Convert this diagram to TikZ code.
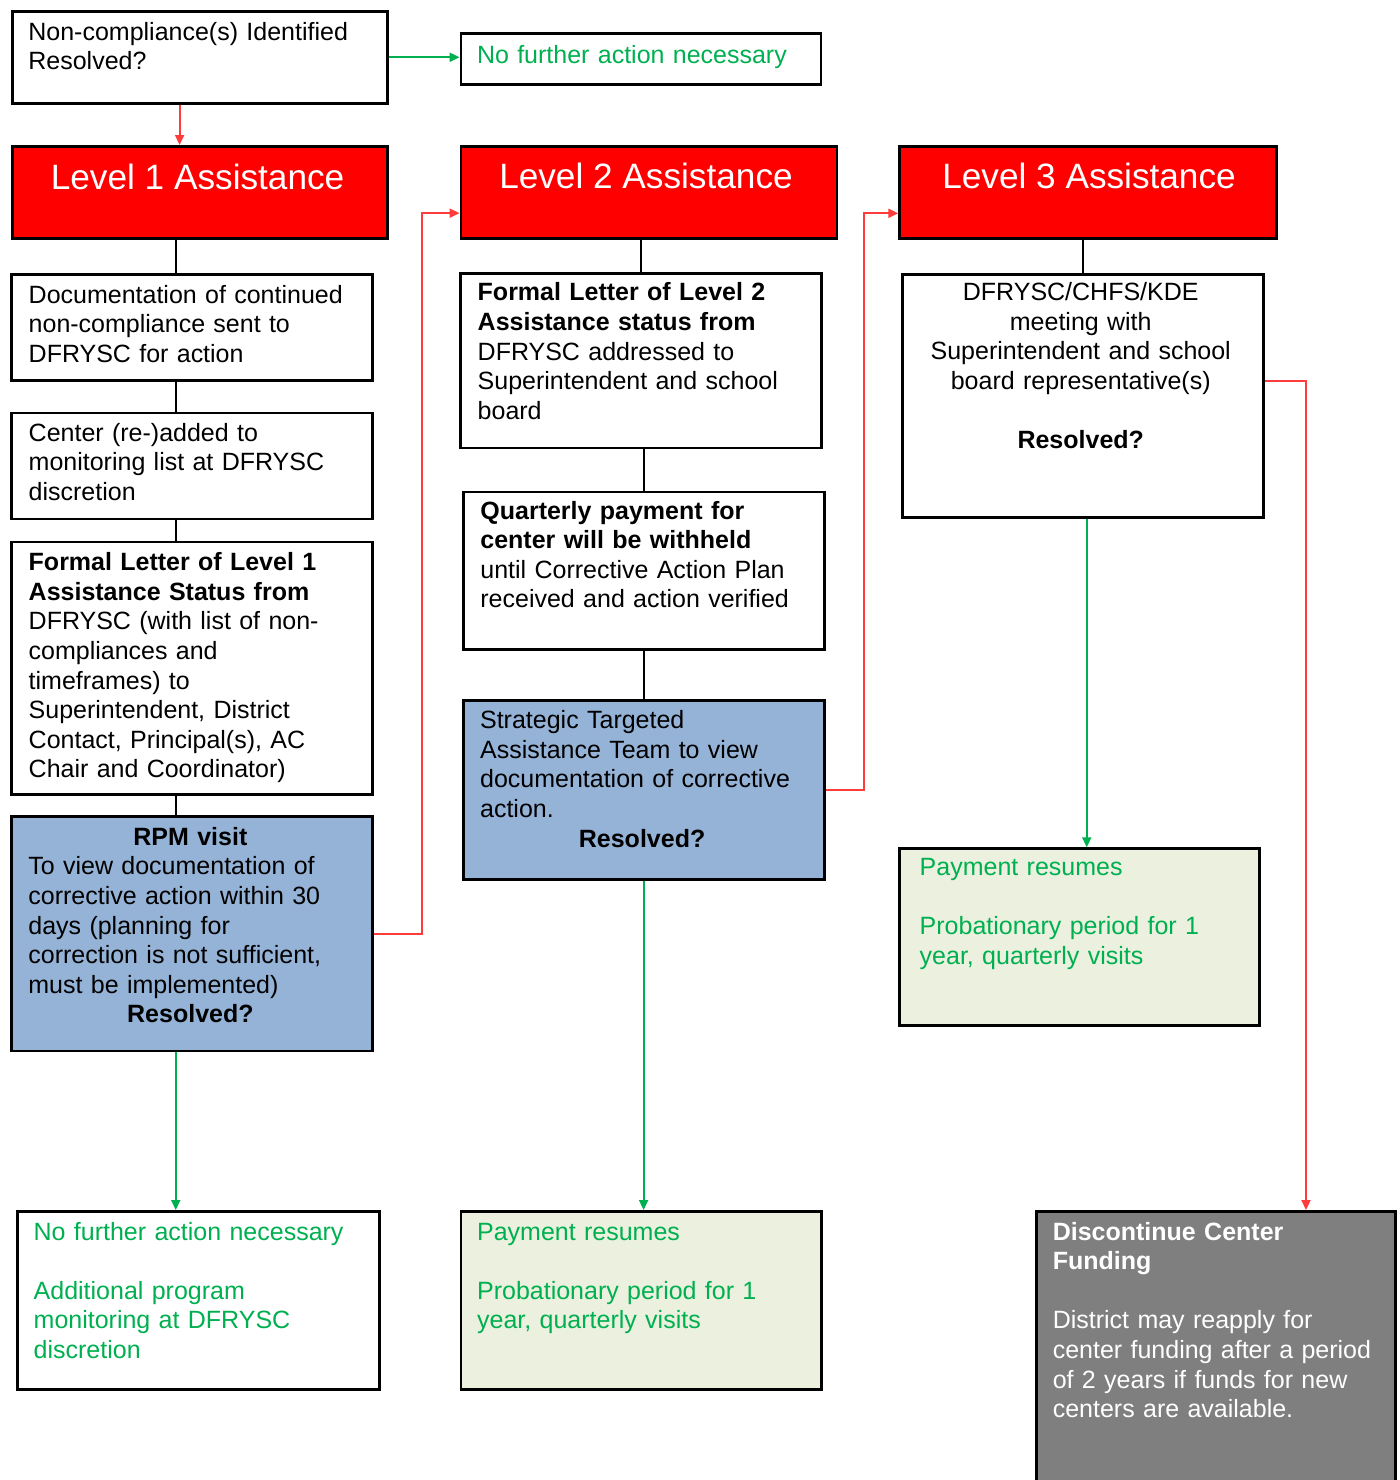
\documentclass[tikz,border=0pt]{standalone}
\usepackage{fontspec}
\setmainfont{Liberation Sans}
\usetikzlibrary{arrows.meta}
\definecolor{lvlred}{RGB}{255,0,0}
\definecolor{stepblue}{RGB}{149,179,215}
\definecolor{okgreen}{RGB}{0,176,80}
\definecolor{paleok}{RGB}{235,241,222}
\definecolor{stopgrey}{RGB}{127,127,127}
\definecolor{linkred}{RGB}{255,60,60}

\begin{document}
\begin{tikzpicture}[x=0.5pt,y=-0.5pt,
        box/.style={draw,line width=1.4pt,inner sep=0pt,anchor=north west},
        boxsize/.style 2 args={minimum width=#1*0.5pt,minimum height=#2*0.5pt},
        head/.style={box,fill=lvlred},
        txt/.style={anchor=base west,inner sep=0pt,text width=162pt,align=left,font=\fontsize{12.5}{14.8}\selectfont},
        htxt/.style={anchor=base,inner sep=0pt,text=white,font=\fontsize{17.6}{20}\selectfont},
        link/.style={line width=1pt},
        yes/.style={link,okgreen,-{Triangle[length=5pt,width=4.5pt]}},
        no/.style={link,linkred,-{Triangle[length=5pt,width=4.5pt]}}]

    \useasboundingbox (0,0) rectangle (1400,1480);

    % start
    \node[box,boxsize={375}{91.7}] (nc) at (10.7,10) {};
    \node[txt,text width=180pt] (nc-t) at ([shift={(17.3,30)}]nc.north west) {Non-compliance(s) Identified\\Resolved?};
    \node[box,boxsize={360}{50.4}] (nfa1) at (459.6,32.3) {};
    \node[txt,text=okgreen] (nfa1-t) at ([shift={(17,31.5)}]nfa1.north west) {No further action necessary};

    % levels
    \node[head,boxsize={375}{92.3}] (L1) at (10.7,145) {};
    \node[htxt] (L1-t) at ([shift={(-2,44.5)}]L1.north) {Level 1 Assistance};
    \node[head,boxsize={376}{92.3}] (L2) at (459.6,145) {};
    \node[htxt] (L2-t) at ([shift={(-3,43)}]L2.north) {Level 2 Assistance};
    \node[head,boxsize={376.7}{92}] (L3) at (898.3,145.3) {};
    \node[htxt] (L3-t) at ([shift={(1,43)}]L3.north) {Level 3 Assistance};

    % level 1
    \node[box,boxsize={360.7}{105.8}] (doc) at (10,273) {};
    \node[txt] (doc-t) at ([shift={(18.3,30)}]doc.north west) {Documentation of continued\\non-compliance sent to\\DFRYSC for action};
    \node[box,boxsize={360.7}{106}] (center) at (10,411.5) {};
    \node[txt] (center-t) at ([shift={(18.3,29.5)}]center.north west) {Center (re-)added to\\monitoring list at DFRYSC\\discretion};
    \node[box,boxsize={360.7}{252.4}] (formal1) at (10,540.6) {};
    \node[txt] (formal1-t) at ([shift={(18.3,30)}]formal1.north west) {\textbf{Formal Letter of Level 1}\\\textbf{Assistance Status from}\\DFRYSC (with list of non-\\compliances and\\timeframes) to\\Superintendent, District\\Contact, Principal(s), AC\\Chair and Coordinator)};
    \node[box,fill=stepblue,boxsize={360.7}{234.2}] (rpm) at (10,815.3) {};
    \node[txt] (rpm-t) at ([shift={(18,30)}]rpm.north west) {\makebox[\linewidth]{\bfseries RPM visit}\\To view documentation of\\corrective action within 30\\days (planning for\\correction is not sufficient,\\must be implemented)\\\makebox[\linewidth]{\bfseries Resolved?}};
    \node[box,boxsize={361.7}{177.7}] (nfa2) at (16,1210) {};
    \node[txt,text=okgreen] (nfa2-t) at ([shift={(17.3,30)}]nfa2.north west) {No further action necessary\\[14.8pt]Additional program\\monitoring at DFRYSC\\discretion};

    % level 2
    \node[box,boxsize={361}{174.3}] (formal2) at (459,272.2) {};
    \node[txt] (formal2-t) at ([shift={(18.3,28.6)}]formal2.north west) {\textbf{Formal Letter of Level 2}\\\textbf{Assistance status from}\\DFRYSC addressed to\\Superintendent and school\\board};
    \node[box,boxsize={361}{157.2}] (quarterly) at (461.7,490.6) {};
    \node[txt] (quarterly-t) at ([shift={(18.3,28.4)}]quarterly.north west) {\textbf{Quarterly payment for}\\\textbf{center will be withheld}\\until Corrective Action Plan\\received and action verified};
    \node[box,fill=stepblue,boxsize={361}{179.6}] (stat) at (461.7,698.8) {};
    \node[txt] (stat-t) at ([shift={(18,29.8)}]stat.north west) {Strategic Targeted\\Assistance Team to view\\documentation of corrective\\action.\\\makebox[\linewidth]{\bfseries Resolved?}};
    \node[box,fill=paleok,boxsize={360.1}{177.7}] (pr2) at (459.6,1210) {};
    \node[txt,text=okgreen] (pr2-t) at ([shift={(17.1,30)}]pr2.north west) {Payment resumes\\[14.8pt]Probationary period for 1\\year, quarterly visits};

    % level 3
    \node[box,boxsize={360.7}{243}] (meeting) at (901,272.7) {};
    \node[txt,anchor=base,align=center] (meeting-t) at ([shift={(-2,28)}]meeting.north) {DFRYSC/CHFS/KDE\\meeting with\\Superintendent and school\\board representative(s)\\[14.8pt]\textbf{Resolved?}};
    \node[box,fill=paleok,boxsize={360}{176.7}] (pr3) at (898.3,847.3) {};
    \node[txt,text=okgreen] (pr3-t) at ([shift={(21,28.4)}]pr3.north west) {Payment resumes\\[14.8pt]Probationary period for 1\\year, quarterly visits};
    \node[box,fill=stopgrey,boxsize={358.8}{290}] (disc) at (1035.2,1210) {};
    \node[txt,text=white] (disc-t) at ([shift={(17.2,30)}]disc.north west) {\textbf{Discontinue Center}\\\textbf{Funding}\\[14.8pt]District may reapply for\\center funding after a period\\of 2 years if funds for new\\centers are available.};

    % connectors
    \draw[yes] (nc.east) -- (nc.east -| nfa1.west);
    \draw[no] ([xshift=-10pt]nc.south) -- ([xshift=-10pt]nc.south |- L1.north);
    \foreach \a/\b in {L1/doc,doc/center,center/formal1,formal1/rpm}
        \draw[link] ([xshift=-8pt]\b.north) -- ([xshift=-8pt]\b.north |- \a.south);
    \foreach \a/\b in {L2/formal2,formal2/quarterly,quarterly/stat}
        \draw[link] (\b.north) -- (\b.north |- \a.south);
    \draw[link] (meeting.north) -- (meeting.north |- L3.south);

    \draw[yes] ([xshift=-8pt]rpm.south) -- ([xshift=-8pt]rpm.south |- nfa2.north);
    \draw[yes] (stat.south) -- (stat.south |- pr2.north);
    \draw[yes] ([xshift=2pt]meeting.south) -- ([xshift=2pt]meeting.south |- pr3.north);

    \draw[no] (rpm.east) -- ++(24pt,0) |- ([yshift=-10.3pt]L2.west);
    \draw[no] (stat.east) -- ++(19pt,0) |- ([yshift=-10.3pt]L3.west);
    \draw[no] ([yshift=7.5pt]meeting.east) -| ([xshift=45pt]disc.north);
\end{tikzpicture}
\end{document}
